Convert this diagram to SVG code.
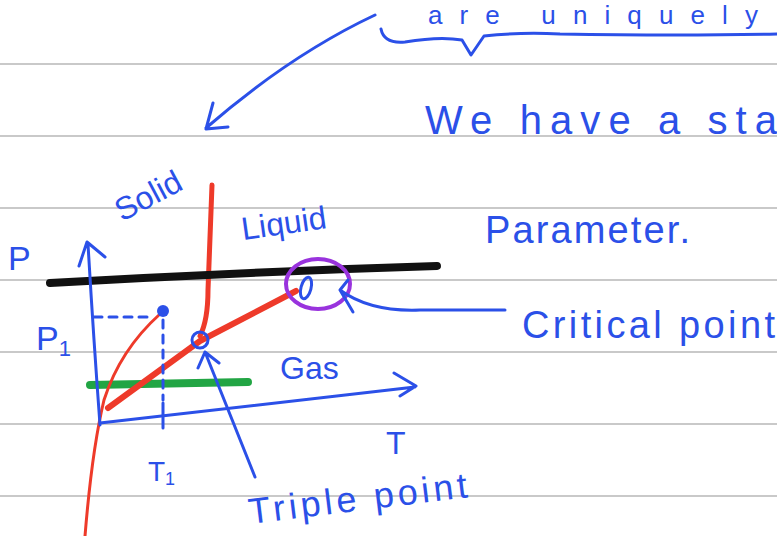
<svg xmlns="http://www.w3.org/2000/svg" width="777" height="536" viewBox="0 0 777 536">
<style>
.rule{stroke:#c9c9c9;stroke-width:2;fill:none}
.ink{stroke:#2b50e8;stroke-width:3;fill:none;stroke-linecap:round;stroke-linejoin:round}
.txt{fill:#2b50e8;font-family:"Liberation Sans","DejaVu Sans",sans-serif}
.red{stroke:#ee3a2a;fill:none;stroke-linecap:round;stroke-linejoin:round}
</style>
<rect width="777" height="536" fill="#ffffff"/>
<g id="rules">
<line class="rule" x1="0" y1="64" x2="777" y2="64"/>
<line class="rule" x1="0" y1="136" x2="777" y2="136"/>
<line class="rule" x1="0" y1="208" x2="777" y2="208"/>
<line class="rule" x1="0" y1="280" x2="777" y2="280"/>
<line class="rule" x1="0" y1="352" x2="777" y2="352"/>
<line class="rule" x1="0" y1="424" x2="777" y2="424"/>
<line class="rule" x1="0" y1="496" x2="777" y2="496"/>
</g>
<g id="notes">
<text class="txt" x="428" y="24" font-size="26" textLength="330" lengthAdjust="spacing">are uniquely</text>
<path class="ink" d="M381 29 Q384 44 405 42 Q440 36 462 40 L471 55 L484 36 Q520 32 560 34 Q680 36 777 34"/>
<path class="ink" d="M375 15 Q290 55 206 128 M213 103 L206 129 L228 127" stroke-width="2.5"/>
<text class="txt" x="425" y="134" font-size="40" textLength="352" lengthAdjust="spacing">We have a sta</text>
<text class="txt" x="485" y="243" font-size="38" textLength="205" lengthAdjust="spacing">Parameter.</text>
<text class="txt" x="522" y="338" font-size="38" textLength="253" lengthAdjust="spacing">Critical point</text>
</g>
<g id="diagram">
<line x1="90" y1="385" x2="248" y2="382" stroke="#22a544" stroke-width="8" stroke-linecap="round"/>
<path class="red" stroke-width="3" d="M160 314 Q120 350 104 400 Q92 450 85 536"/>
<path class="red" stroke-width="6" d="M108 408 L200 341 L296 291"/>
<path class="red" stroke-width="5" d="M200 336 Q208 320 208 290 L212 185"/>
<path d="M50 283 Q240 272 437 266" stroke="#111111" stroke-width="8" fill="none" stroke-linecap="round"/>
<path class="ink" d="M100 425 Q93 330 88 244 M79 266 L87 242 L105 257"/>
<path class="ink" d="M100 423 Q260 405 415 387 M394 373 L416 386 L400 396"/>
<line class="ink" x1="163" y1="403" x2="163" y2="428"/>
<path class="ink" stroke-width="2.5" stroke-dasharray="8 7" d="M94 317 L150 317 M163 320 L163 400"/>
<circle cx="163" cy="311" r="6" fill="#2b50e8"/>
<circle cx="200" cy="340" r="8" class="ink" stroke-width="2.5"/>
<ellipse cx="318" cy="284" rx="32" ry="25" fill="none" stroke="#9933dd" stroke-width="4"/>
<ellipse cx="306" cy="288" rx="5" ry="11" transform="rotate(15 306 288)" class="ink" stroke-width="2.5"/>
<path class="ink" stroke-width="2.5" d="M340 290 Q370 312 420 310 L505 310 M348 280 L340 290 L353 312"/>
<path class="ink" d="M255 477 L205 352 M198 368 L205 352 L219 363"/>
<text class="txt" x="122" y="222" font-size="32" transform="rotate(-28 122 222)">Solid</text>
<text class="txt" x="243" y="240" font-size="32" transform="rotate(-8 243 240)">Liquid</text>
<text class="txt" x="280" y="379" font-size="32">Gas</text>
<text class="txt" x="8" y="270" font-size="34">P</text>
<text class="txt" x="36" y="350" font-size="34">P<tspan font-size="22" dy="6">1</tspan></text>
<text class="txt" x="386" y="454" font-size="32">T</text>
<text class="txt" x="148" y="481" font-size="28">T<tspan font-size="18" dy="4">1</tspan></text>
<text class="txt" x="250" y="524" font-size="36" transform="rotate(-7 250 524)" textLength="220" lengthAdjust="spacing">Triple point</text>
</g>
</svg>
